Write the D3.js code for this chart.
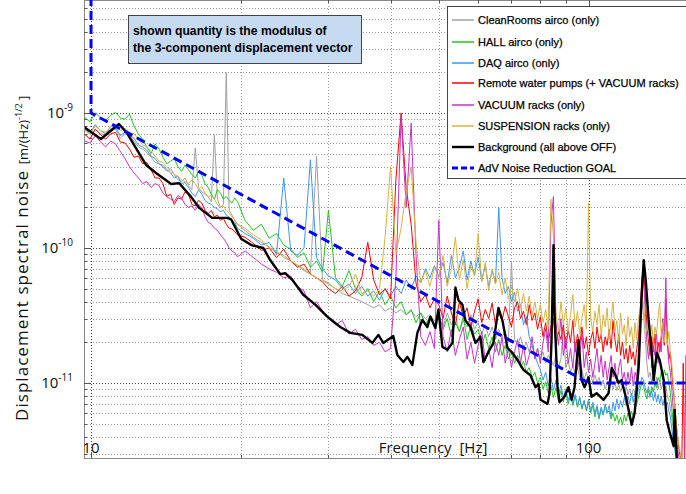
<!DOCTYPE html>
<html lang="en">
<head>
<meta charset="UTF-8" />
<title>Displacement spectral noise</title>
<script src="https://d3js.org/d3.v7.min.js"></script>
<style>
  body { margin: 0; background: #fff; }
  svg { display: block; }
</style>
</head>
<body>
<div id="chart"></div>
<script>
// frequency grid of the coloured spectra [Hz]
const freq = [
  9.7, 9.95, 10.2, 10.45, 10.7, 10.95, 11.2, 11.45, 11.7, 11.95,
  12.2, 12.45, 12.7, 12.95, 13.2, 13.45, 13.7, 13.95, 14.2, 14.45,
  14.7, 14.95, 15.2, 15.45, 15.7, 15.95, 16.2, 16.45, 16.7, 16.95,
  17.2, 17.45, 17.7, 17.95, 18.2, 18.45, 18.7, 18.95, 19.2, 19.45,
  19.7,
  20.4, 21.2, 22, 22.8, 23.6, 24.4, 25.2, 26, 26.8,
  27.6, 28.4, 29.2, 30, 31, 32, 33, 34, 35, 36,
  37, 38, 39, 40, 41, 42, 43, 44, 45, 46,
  47, 48, 49,
  50, 51, 52, 53, 54, 55, 56, 57, 58, 59,
  60, 61, 62, 63, 64, 65, 66, 67, 68, 69,
  70, 71, 72, 73, 74, 75, 76, 77, 78, 79,
  80, 81, 82, 83, 84, 85, 86, 87, 88, 89,
  90, 91, 92, 93, 94, 95, 96, 97, 98, 99,
  100, 101, 102, 103, 104, 105, 106, 107, 108, 109,
  110, 111, 112, 113, 114, 115, 116, 117, 118, 119,
  120, 121, 122, 123, 124, 125, 126, 127, 128, 129,
  130, 131, 132, 133, 134, 135, 136, 137, 138, 139,
  140, 141, 142, 143, 144, 145, 146, 147, 148, 149,
  150, 151, 152, 153, 154, 155, 156, 157, 158
];

// spectra, in units of 1e-12 m/(Hz)^1/2
const cleanRooms = [
  700, 640, 760, 700, 690, 800, 760, 650, 700, 680,
  620, 560, 540, 510, 470, 430, 420, 400, 370, 390,
  350, 320, 310, 330, 290, 270, 550, 280, 260, 250,
  240, 220, 690, 230, 200, 210, 2000, 190, 175, 160,
  150,
  135, 120, 110, 102, 92, 88, 80, 74, 68,
  64, 480, 58, 55, 50, 46, 44, 42, 40, 38,
  36, 38, 34, 36, 33, 35, 32, 34, 31, 33,
  30, 32, 29,
  30, 26, 33, 27, 31, 24, 29, 26, 32, 25,
  28, 23, 27, 22, 26, 21, 25, 22, 24, 20,
  80, 21, 19, 22, 18, 20, 17, 19, 16, 18,
  15, 17, 14, 16, 15, 13.5, 16, 13, 15, 26,
  13, 14.5, 12, 13.5, 11.5, 13, 11, 12.5, 10.5, 12,
  10.5, 11.5, 10, 11.5, 10, 11, 9.5, 10.5, 9, 10,
  9.5, 10.5, 9, 10, 8.8, 9.8, 8.6, 9.6, 8.4, 9.4,
  8.2, 9, 8, 9, 8.5, 11, 14, 25, 40, 32,
  22, 14, 11, 12, 10, 11.5, 9.5, 11, 9, 10.5,
  9, 10, 8.5, 9.5, 8, 7.5, 6.5, 5.5, 4.5, 3.8,
  3.2, 2.8, 2.6, 2.4, 2.3, 2.2, 2.2, 2.1, 2.1
];
const hallAirco = [
  930, 860, 1000, 920, 880, 960, 1010, 920, 900, 980,
  800, 700, 640, 560, 500, 590, 540, 470, 420, 440,
  460, 400, 370, 410, 380, 350, 330, 370, 345, 300,
  280, 250, 230, 270, 255, 230, 240, 225, 215, 235,
  220,
  160, 135, 150, 118, 128, 105, 98, 85, 92,
  72, 80, 66, 190, 60, 52, 68, 50, 44, 50,
  40, 48, 38, 44, 36, 40, 32, 35, 28, 33,
  27, 31, 26,
  33, 25, 30, 22, 28, 24, 31, 21, 27, 23,
  25, 19, 23, 18, 22, 17, 21, 16, 19, 15,
  17, 14, 16, 13, 14.5, 12, 13, 11, 12, 10,
  11, 9, 10.2, 8.4, 9.6, 7.8, 9.2, 7.4, 8.8, 7.2,
  8.6, 7, 8.2, 6.8, 8, 6.6, 7.8, 6.4, 7.4, 6.2,
  7.2, 6, 6.8, 5.6, 6.6, 5.4, 6.4, 5.8, 6.8, 6,
  6.2, 5.4, 6, 5.2, 5.8, 5, 5.6, 4.9, 5.8, 5.2,
  6, 5.4, 6.2, 5.6, 6.4, 7, 7.8, 9, 10, 9.4,
  8.4, 7.6, 8.8, 8, 9.4, 8.6, 10, 9.2, 11, 10.2,
  12, 10.6, 12.5, 11.4, 11.8, 10, 8.5, 6.5, 5, 4,
  3.3, 2.9, 2.6, 2.4, 2.3, 2.2, 2.2, 2.1, 2.1
];
const daqAirco = [
  760, 700, 820, 740, 700, 760, 780, 680, 720, 690,
  650, 580, 560, 530, 480, 460, 420, 410, 380, 360,
  330, 340, 300, 305, 280, 255, 240, 270, 250, 225,
  215, 210, 200, 195, 185, 190, 175, 170, 160, 155,
  140,
  128, 118, 105, 110, 90, 330, 95, 88, 100,
  450, 85, 70, 62, 58, 50, 54, 46, 52, 44,
  48, 41, 50, 44, 52, 46, 58, 50, 62, 55,
  70, 60, 74,
  62, 78, 55, 88, 60, 72, 95, 58, 80, 63,
  86, 57, 74, 52, 68, 55, 200, 60, 46, 52,
  40, 47, 34, 38, 27, 31, 22, 19, 16, 14,
  12.5, 10.5, 12, 9.5, 11, 8.8, 10.5, 8.2, 9.6, 7.8,
  9, 7.4, 8.6, 7, 8.2, 6.8, 7.8, 6.5, 7.4, 6.3,
  7.6, 6.2, 7.2, 5.9, 6.8, 5.6, 6.6, 5.8, 7, 6,
  6.8, 5.6, 7.2, 6.2, 7.6, 6.4, 7.4, 6.6, 7.8, 6.8,
  8, 7, 8.4, 7.2, 8.6, 7.6, 9, 9.8, 11, 10.5,
  9.2, 8.4, 9.4, 7.8, 8.8, 7.4, 8.6, 7.2, 8.2, 7,
  8, 6.8, 7.6, 6.6, 7.2, 6.2, 5.6, 4.6, 3.8, 3.2,
  2.8, 2.6, 2.4, 2.3, 2.2, 2.2, 2.1, 2.1, 2.1
];
const waterPumps = [
  700, 640, 760, 690, 640, 700, 720, 610, 600, 540,
  470, 480, 420, 430, 380, 330, 330, 300, 240, 250,
  210, 235, 230, 260, 250, 210, 205, 225, 215, 190,
  180, 190, 170, 175, 160, 165, 150, 140, 138, 132,
  125,
  120, 108, 96, 100, 85, 98, 80, 72, 76,
  64, 60, 56, 50, 46, 52, 44, 48, 60, 110,
  58, 45, 50, 42, 320, 1000, 280, 150, 55, 40,
  45, 36, 42,
  38, 30, 44, 33, 27, 40, 31, 36, 26, 34,
  42, 28, 35, 30, 39, 27, 33, 29, 37, 31,
  26, 36, 40, 30, 34, 27, 38, 29, 33, 25,
  31, 22, 28, 20, 26, 30, 19, 24, 21, 27,
  18, 25, 20, 29, 17, 23, 19, 26, 18, 22,
  16, 21, 24, 18, 26, 20, 23, 17, 22, 19,
  25, 18, 29, 21, 17, 23, 16, 20, 15, 18,
  14, 19, 15, 17, 13.5, 18, 22, 34, 60, 70,
  45, 27, 20, 16, 22, 17, 23, 15, 20, 17,
  22, 28, 19, 42, 20, 15, 17, 12, 9, 7,
  5, 4, 3.2, 2.8, 2.6, 14, 2.4, 2.3, 2.2
];
const vacuumRacks = [
  620, 600, 680, 610, 560, 620, 590, 520, 460, 400,
  360, 330, 300, 310, 280, 300, 290, 255, 240, 230,
  220, 245, 235, 210, 200, 205, 190, 210, 200, 170,
  155, 150, 140, 135, 125, 118, 110, 100, 95, 92,
  86,
  95, 85, 76, 70, 66, 60, 62, 52, 48,
  36, 40, 34, 30, 27, 29, 23, 25, 21, 22,
  19, 20, 17, 18, 60, 950, 200, 840, 90, 22,
  19, 24, 18,
  160, 22, 17, 25, 16, 21, 26, 15, 20, 14,
  19, 24, 14.5, 18, 13, 20, 16, 22, 14, 18,
  13, 17, 21, 14, 19, 13.5, 16, 22, 15, 18,
  14, 20, 25, 17, 150, 240, 28, 19, 30, 16,
  22, 14, 18, 13, 20, 12.5, 16, 23, 13, 17,
  12, 15, 11, 14, 18, 12, 16, 11, 14.5, 10.5,
  13, 16, 11, 14, 10, 13, 15, 10.5, 12, 9.5,
  12, 10, 13, 9.5, 12, 11, 17, 30, 45, 60,
  35, 20, 15, 22, 13, 19, 16, 24, 14, 20,
  17, 30, 21, 60, 22, 14, 12, 9, 6.5, 4.8,
  3.8, 3.2, 2.8, 2.6, 2.4, 2.3, 2.3, 16, 2.2
];
const suspensionRacks = [
  740, 700, 800, 740, 720, 790, 820, 740, 770, 720,
  700, 640, 580, 560, 520, 480, 440, 430, 400, 370,
  350, 340, 320, 310, 300, 320, 300, 270, 285, 255,
  240, 245, 230, 210, 200, 205, 190, 180, 170, 162,
  150,
  140, 125, 115, 100, 95, 85, 80, 75, 70,
  64, 60, 57, 54, 50, 48, 52, 64, 46, 48,
  44, 50, 120, 400, 90, 140, 260, 400, 110, 55,
  68, 52, 72,
  60, 88, 52, 70, 120, 58, 82, 50, 74, 62,
  128, 56, 78, 48, 70, 54, 66, 45, 60, 42,
  52, 40, 50, 36, 46, 34, 44, 31, 40, 30,
  38, 28, 35, 26, 230, 120, 33, 24, 40, 27,
  36, 24, 32, 45, 26, 34, 23, 30, 38, 25,
  215, 30, 24, 34, 27, 38, 22, 32, 26, 36,
  21, 30, 40, 24, 29, 20, 33, 23, 27, 19,
  31, 22, 26, 18, 28, 21, 30, 35, 45, 38,
  28, 24, 30, 21, 27, 20, 26, 23, 31, 39,
  22, 28, 20, 26, 19, 24, 17, 14, 10, 7,
  5, 4, 3.4, 3, 2.7, 2.5, 2.4, 2.3, 2.2
];

// background (all above OFF), own frequency points
const bgFreq = [
  9.68, 10.47, 11.38, 11.81, 12.2, 12.9, 13.51, 14.49, 15.04, 15.89,
  16.5, 17.52, 18.78, 19.12, 20.03, 20.99, 22.19, 22.93, 24.01, 24.57,
  25.38, 26.71, 28.23, 29.84, 31.7, 33.2, 35.1, 36.77, 37.8, 38.68,
  40.51, 41.27, 42.44, 43.23, 44.25, 45.28, 46.34, 47.43, 48.1, 49.23,
  49.92, 50.85, 52.04, 53.27, 54.01, 54.77, 55.79, 56.56, 57.89, 59.24,
  60.63, 61.48, 62.93, 64.4, 65.91, 67.14, 68.71, 70.32, 71.97, 73.99,
  76.43, 78.23, 79.33, 80.07, 82.71, 83.48, 84.26, 85.04, 85.43, 86.63,
  87.43, 89.47, 91.15, 92.44, 93.72, 95.47, 96.82, 98.17, 100, 101.4,
  103.8, 107.2, 109.7, 111.3, 112.8, 114.9, 116.5, 119.2, 122.1, 123.8,
  126.1, 127.8, 129.1, 130.3, 132.1, 134, 135.2, 137.1, 139, 141.6,
  143.6, 145.6, 148.3, 149, 150.4, 153.2
];
const background = [
  788, 642, 829, 711, 580, 412, 359, 298, 302, 239,
  198, 167, 167, 163, 117, 105, 100, 81, 64, 65,
  58, 45, 38, 31, 26, 23.5, 22.7, 19.8, 22.7, 19.8,
  22.3, 16.1, 14.3, 15.6, 13.6, 23.5, 29.3, 26, 31, 25.5,
  35, 18.5, 17.6, 19.8, 51, 41, 38, 29, 26, 19.8,
  22, 14.3, 17, 19.8, 36, 29, 18.2, 16.7, 14.8, 12.5,
  11.4, 9.3, 9.8, 7.5, 7, 8.4, 20.8, 105, 33, 9.3,
  7.2, 7.9, 9.3, 7.5, 9.3, 20.8, 10.5, 9.3, 11, 7.9,
  8.4, 7.5, 8.4, 12.9, 11.8, 10, 10.5, 7.5, 4.9, 6,
  13.1, 43, 81, 58, 29, 16.7, 10.5, 16.7, 14.8, 10.5,
  5.3, 4.3, 3.4, 6.3, 2.8, 2
];

// AdV noise reduction goal
const goalFreq = [10, 10, 100, 160];
const goalVals = [100000, 1000, 10, 10];

const yTickExps = [-9, -10, -11];
const xTickVals = [10, 100];

const seriesNames = [
  "CleanRooms airco (only)",
  "HALL airco (only)",
  "DAQ airco (only)",
  "Remote water pumps (+ VACUUM racks)",
  "VACUUM racks (only)",
  "SUSPENSION racks (only)",
  "Background (all above OFF)",
  "AdV Noise Reduction GOAL"
];
const seriesColors = ["#a0a0a0", "#1ec81e", "#3a96f0", "#ff0000", "#c832c8", "#d8b440", "#000000", "#0000ff"];

const W = 686, H = 494;
const pL = 84, pR = 686, pT = 0, pB = 458;
const unit = 1e-12;

const svg = d3.select("#chart").append("svg").attr("width", W).attr("height", H);

const x = d3.scaleLog().domain([9.68, 157]).range([pL, pR]);
const y = d3.scaleLog().domain([2.78e-12, 6.87e-9]).range([pB, pT]);

// grid
const gridY = y.ticks().filter(v => y(v) > pT + 2 && y(v) < pB - 1);
const gridX = x.ticks().filter(v => x(v) > pL + 2 && x(v) < pR);
const isMajor = v => Math.abs(Math.log10(v) - Math.round(Math.log10(v))) < 1e-6;

svg.append("g").selectAll("line").data(gridY).enter().append("line")
  .attr("x1", pL).attr("x2", pR)
  .attr("y1", d => Math.round(y(d)) + 0.5).attr("y2", d => Math.round(y(d)) + 0.5)
  .attr("stroke", d => isMajor(d) ? "#444" : "#999")
  .attr("stroke-dasharray", "1,2");

svg.append("g").selectAll("line").data(gridX).enter().append("line")
  .attr("y1", pT).attr("y2", pB)
  .attr("x1", d => Math.round(x(d)) + 0.5).attr("x2", d => Math.round(x(d)) + 0.5)
  .attr("stroke", d => isMajor(d) ? "#444" : "#999")
  .attr("stroke-dasharray", "1,2");

// frame + ticks
const frame = svg.append("g").attr("stroke", "#888").attr("fill", "none");
frame.append("line").attr("x1", pL + 0.5).attr("x2", pL + 0.5).attr("y1", pT).attr("y2", pB);
frame.append("line").attr("x1", pL).attr("x2", pR).attr("y1", pB + 0.5).attr("y2", pB + 0.5);
frame.append("line").attr("x1", pL).attr("x2", pR).attr("y1", pT + 0.5).attr("y2", pT + 0.5);
frame.selectAll(".ty").data(gridY).enter().append("line")
  .attr("x1", pL).attr("x2", d => pL + (isMajor(d) ? 6 : 3))
  .attr("y1", d => Math.round(y(d)) + 0.5).attr("y2", d => Math.round(y(d)) + 0.5)
  .attr("stroke", "#555");
frame.selectAll(".tx").data(gridX).enter().append("line")
  .attr("y1", pB).attr("y2", d => pB - (isMajor(d) ? 6 : 3))
  .attr("x1", d => Math.round(x(d)) + 0.5).attr("x2", d => Math.round(x(d)) + 0.5)
  .attr("stroke", "#555");
frame.selectAll(".tt").data(gridX).enter().append("line")
  .attr("y1", pT).attr("y2", d => pT + (isMajor(d) ? 6 : 3))
  .attr("x1", d => Math.round(x(d)) + 0.5).attr("x2", d => Math.round(x(d)) + 0.5)
  .attr("stroke", "#555");

// data
svg.append("clipPath").attr("id", "clip").append("rect")
  .attr("x", pL + 1).attr("y", pT).attr("width", pR - pL).attr("height", pB - pT);
const plot = svg.append("g").attr("clip-path", "url(#clip)");

const line = d3.line().x(d => x(d[0])).y(d => y(d[1] * unit));
const coloured = [cleanRooms, hallAirco, daqAirco, waterPumps, vacuumRacks, suspensionRacks];
coloured.forEach((vals, k) => {
  plot.append("path")
    .datum(freq.map((f, i) => [f, vals[i]]))
    .attr("d", line)
    .attr("fill", "none")
    .attr("stroke", seriesColors[k])
    .attr("stroke-width", 1)
    .attr("stroke-linejoin", "round");
});
plot.append("path")
  .datum(bgFreq.map((f, i) => [f, background[i]]))
  .attr("d", line)
  .attr("fill", "none")
  .attr("stroke", "#000")
  .attr("stroke-width", 2.4)
  .attr("stroke-linejoin", "round");
plot.append("path")
  .datum(goalFreq.map((f, i) => [f, goalVals[i]]))
  .attr("d", line)
  .attr("fill", "none")
  .attr("stroke", "#0000ff")
  .attr("stroke-width", 3)
  .attr("stroke-dasharray", "9,5");

// tick labels and axis titles
const lab = svg.append("g").attr("font-family", "'Open Sans', sans-serif").attr("fill", "#111");
yTickExps.forEach(e => {
  const t = lab.append("text")
    .attr("x", 73).attr("y", y(Math.pow(10, e)) + 5)
    .attr("text-anchor", "end").attr("font-size", 15);
  t.append("tspan").text("10");
  t.append("tspan").attr("font-size", 10).attr("dy", -7).text(String(e));
});
xTickVals.forEach(v => {
  lab.append("text").attr("x", x(v)).attr("y", 453)
    .attr("text-anchor", "middle").attr("font-size", 15).text(v);
});
lab.append("text").attr("x", 433).attr("y", 453)
  .attr("text-anchor", "middle").attr("font-size", 15)
  .attr("xml:space", "preserve").text("Frequency  [Hz]");

lab.append("text").attr("transform", "translate(28,296) rotate(-90)")
  .attr("text-anchor", "middle").attr("font-size", 17)
  .attr("textLength", 250).attr("lengthAdjust", "spacing")
  .text("Displacement spectral noise");
const yu = lab.append("text").attr("transform", "translate(28,130) rotate(-90)")
  .attr("text-anchor", "middle").attr("font-size", 13);
yu.append("tspan").text("[m/(Hz)");
yu.append("tspan").attr("font-size", 9).attr("dy", -6).text("-1/2");
yu.append("tspan").attr("dy", 6).text(" ]");

// note box
const note = svg.append("g");
note.append("rect").attr("x", 128.5).attr("y", 15.5).attr("width", 233).attr("height", 48)
  .attr("fill", "#c6daf2").attr("stroke", "#444");
["shown quantity is the modulus of", "the 3-component displacement vector"].forEach((s, i) => {
  note.append("text").attr("x", 133).attr("y", 35 + i * 17)
    .attr("font-family", "'Liberation Sans', Arial, sans-serif")
    .attr("font-weight", "bold").attr("font-size", 12.2).attr("fill", "#000").text(s);
});

// legend
const leg = svg.append("g");
leg.append("rect").attr("x", 447.5).attr("y", 6.5).attr("width", 260).attr("height", 172)
  .attr("fill", "#fff").attr("stroke", "#444");
seriesNames.forEach((name, i) => {
  const yy = [20, 42, 63, 83, 105, 126, 147, 168][i];
  leg.append("line").attr("x1", 452).attr("x2", 474).attr("y1", yy).attr("y2", yy)
    .attr("stroke", seriesColors[i])
    .attr("stroke-width", i === 6 ? 2.4 : (i === 7 ? 3 : 1.5))
    .attr("stroke-dasharray", i === 7 ? "6,3" : null);
  leg.append("text").attr("x", 478).attr("y", yy + 4)
    .attr("font-family", "'Liberation Sans', Arial, sans-serif")
    .attr("font-size", 11).attr("fill", "#000")
    .attr("stroke", "#000").attr("stroke-width", 0.25)
    .text(name);
});
</script>
</body>
</html>
